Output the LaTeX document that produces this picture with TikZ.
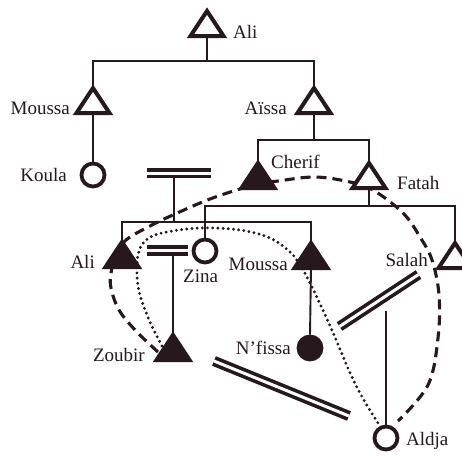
\documentclass[tikz,border=0pt]{standalone}
\usepackage{fontspec}
\setmainfont{Liberation Serif}
\definecolor{inkc}{RGB}{38,24,28}
\begin{document}
\begin{tikzpicture}[x=1pt,y=-1pt,
  tree/.style={draw=inkc, line width=1.9pt},
  tri/.style={draw=inkc, line width=4pt, line join=miter},
  circ/.style={circle, draw=inkc, line width=3.8pt, minimum size=23pt, inner sep=0pt, fill=white},
  fcirc/.style={circ, fill=inkc},
  marr/.style={draw=inkc, line width=3.6pt, double=white, double distance=3pt},
  lab/.style={text=inkc, font=\fontsize{19}{21}\selectfont, inner sep=0pt},
  kdash/.style={draw=inkc, line width=3.1pt, dash pattern=on 10pt off 6pt},
  kdot/.style={draw=inkc, line width=3.2pt, line cap=round, dash pattern=on 0pt off 5.2pt},
  pics/otri/.style={code={\draw[tri, fill=white] (-16.5,0) -- (0,-25) -- (16.5,0) -- cycle;
     \coordinate (-apex) at (0,-25); \coordinate (-base) at (0,0);}},
  pics/ftri/.style={code={\draw[tri, fill=inkc] (-16.5,0) -- (0,-25) -- (16.5,0) -- cycle;
     \coordinate (-apex) at (0,-25); \coordinate (-base) at (0,0);}}
]
\clip (0,0) rectangle (462,455);
\fill[white] (0,0) rectangle (462,455);

% junction coordinates
\coordinate (sibA) at (207,61);
\coordinate (sibB) at (314,140);
\coordinate (sibC) at (369,206);
\coordinate (sibD) at (174,222);
% marriage bars
\coordinate (b1l) at (147,173);  \coordinate (b1r) at (211,173);  \coordinate (b1s) at (174,178);
\coordinate (b2l) at (147,250.5); \coordinate (b2r) at (188,250.5); \coordinate (b2s) at (173,255);
\coordinate (b3l) at (339.5,326.5); \coordinate (b3r) at (418.5,274.5); \coordinate (b3s) at (386,311);
\coordinate (b4l) at (214,361); \coordinate (b4r) at (349,416);

% circles
\node[circ] (koula) at (93,175) {};
\node[circ] (zina) at (205,251) {};
\node[fcirc] (nfi) at (310,348) {};
\node[circ] (ald) at (386,438) {};

% curves (under the symbols)
\draw[kdash] plot[smooth, tension=0.6] coordinates {(158,352) (136,331) (119,310) (111,288) (111,273) (116,255) (126,240) (150,226) (175,214) (210,199) (243,188) (258,184) (278,181) (315,177) (350,182) (373,190) (403,213) (420,237) (432,260) (439,295) (438,338) (428,385) (398,421)};
\draw[kdot] plot[smooth, tension=0.6] coordinates {(162,346) (150,322) (140,295) (137,275) (138,255) (145,241) (162,233) (200,228) (240,230) (270,238) (290,252) (300,265) (311,285) (331,328) (351,375) (365,402) (378,423)};

% triangles
\pic (aliT) at (207,36) {otri};
\pic (mouT) at (93,113) {otri};
\pic (ais) at (314,113) {otri};
\pic (che) at (258,188) {ftri};
\pic (fat) at (369,188) {otri};
\pic (aliB) at (122,267) {ftri};
\pic (mouB) at (311,268) {ftri};
\pic (zou) at (173,360) {ftri};
\pic (sal) at (455,268) {otri};

% filiation lines
\draw[tree] (aliT-base) -- (sibA);
\draw[tree] (mouT-apex) |- (sibA) -| (ais-apex);
\draw[tree] (mouT-base) -- (koula.north);
\draw[tree] (ais-base) -- (sibB);
\draw[tree] (che-apex) |- (sibB) -| (fat-apex);
\draw[tree] (fat-base) -- (sibC);
\draw[tree] (zina.north) |- (sibC) -| (sal-apex);
\draw[tree] (b1s) -- (sibD);
\draw[tree] (aliB-apex) |- (sibD) -| (mouB-apex);
\draw[tree] (b2s) -- (zou-apex);
\draw[tree] (mouB-base) -- (nfi.north);
\draw[tree] (b3s) -- (ald.north);

% marriage signs
\draw[marr] (b1l) -- (b1r);
\draw[marr] (b2l) -- (b2r);
\draw[marr] (b3l) -- (b3r);
\draw[marr] (b4l) -- (b4r);

% labels
\node[lab, anchor=west] (tAliT) at (233,32) {Ali};
\node[lab, anchor=east] (tMouT) at (70,108) {Moussa};
\node[lab, anchor=east] (tKoula) at (67,175) {Koula};
\node[lab, anchor=east] (tAis) at (287,108) {Aïssa};
\node[lab, anchor=west] (tChe) at (271,162) {Cherif};
\node[lab, anchor=west] (tFat) at (397,183) {Fatah};
\node[lab, anchor=east] (tAliB) at (95,262) {Ali};
\node[lab, anchor=west] (tZina) at (183,276) {Zina};
\node[lab, anchor=east] (tMouB) at (288,264) {Moussa};
\node[lab, anchor=east] (tZou) at (145,355) {Zoubir};
\node[lab, anchor=east] (tNfi) at (291,348) {N’fissa};
\node[lab, anchor=east] (tSal) at (428,260) {Salah};
\node[lab, anchor=west] (tAld) at (406,441) {Aldja};
\end{tikzpicture}
\end{document}
